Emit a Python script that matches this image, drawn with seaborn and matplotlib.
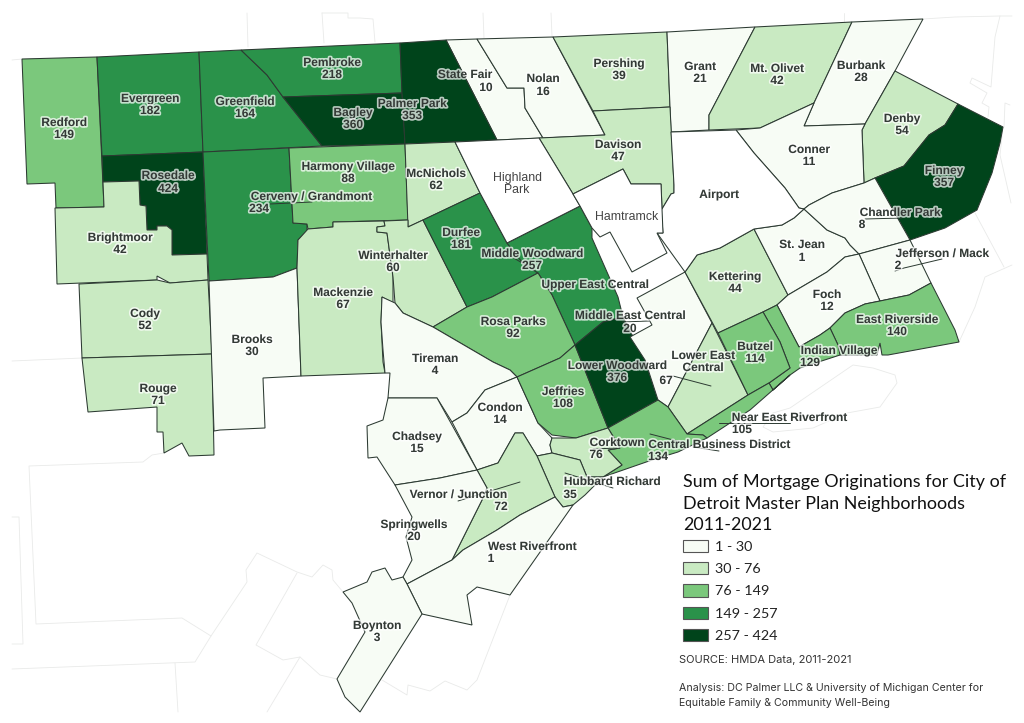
import pandas as pd
import matplotlib.pyplot as plt
import matplotlib.patheffects as pe
from matplotlib.patches import Patch
import seaborn as sns

# Mortgage originations per neighborhood
NAMES = ['Redford', 'Evergreen', 'Greenfield', 'Pembroke', 'State Fair', 'Nolan', 'Pershing', 'Grant',
         'Mt. Olivet', 'Burbank', 'Denby', 'Finney', 'Conner', 'Davison', 'Bagley', 'Palmer Park',
         'Rosedale', 'Cerveny / Grandmont', 'Harmony Village', 'McNichols', 'Brightmoor', 'Cody',
         'Rouge', 'Brooks', 'Mackenzie', 'Winterhalter', 'Durfee', 'Middle Woodward', 'Rosa Parks',
         'Tireman', 'Condon', 'Chadsey', 'Jeffries', 'Lower Woodward', 'Middle East Central',
         'Lower East Central', 'Kettering', 'St. Jean', 'Chandler Park', 'Jefferson / Mack', 'Foch',
         'East Riverside', 'Indian Village', 'Butzel', 'Near East Riverfront',
         'Central Business District', 'Corktown', 'Hubbard Richard', 'Vernor / Junction',
         'Springwells', 'West Riverfront', 'Boynton']
VALUES = [149, 182, 164, 218, 10, 16, 39, 21,
          42, 28, 54, 357, 11, 47, 360, 353,
          424, 234, 88, 62, 42, 52,
          71, 30, 67, 60, 181, 257, 92,
          4, 14, 15, 108, 376, 20,
          67, 44, 1, 8, 2, 12,
          140, 129, 114, 105,
          134, 76, 35, 72,
          20, 1, 3]

BIN_EDGES = [1, 30, 76, 149, 257, 424]
BIN_LABELS = ['1 - 30', '30 - 76', '76 - 149', '149 - 257', '257 - 424']

# Boundaries, traced in image pixels
OUTLINES = {
    'Redford': [(22, 59), (97, 57), (104, 207), (56, 208), (55, 183), (27, 184)],
    'Evergreen': [(97, 57), (199, 52), (203, 152), (102, 156)],
    'Greenfield': [(199, 52), (241, 50), (267, 75), (283, 97), (322, 146), (203, 152)],
    'Pembroke': [(241, 50), (400, 43), (402, 93), (283, 97), (267, 75)],
    'State Fair': [(446, 40), (477, 39), (507, 88), (524, 88), (525, 108), (543, 138), (497, 140)],
    'Nolan': [(477, 39), (553, 37), (605, 135), (543, 138), (525, 108), (524, 88), (507, 88)],
    'Pershing': [(553, 37), (667, 32), (670, 107), (593, 111)],
    'Grant': [(667, 32), (755, 27), (709, 115), (709, 130), (671, 132)],
    'Mt. Olivet': [(755, 27), (852, 22), (814, 103), (760, 128), (709, 130), (709, 115)],
    'Burbank': [(852, 22), (923, 19), (895, 71), (865, 124), (804, 126), (814, 103)],
    'Denby': [(895, 71), (958, 104), (945, 125), (929, 135), (904, 166), (875, 178), (864, 183),
              (862, 130), (865, 124)],
    'Finney': [(958, 104), (1003, 127), (1000, 143), (992, 173), (977, 210), (945, 228), (910, 240),
               (875, 178), (904, 166), (929, 135), (945, 125)],
    'Conner': [(804, 126), (865, 124), (862, 130), (864, 183), (832, 193), (809, 205), (804, 209),
               (799, 208), (785, 188), (754, 153), (736, 130), (760, 128), (814, 103)],
    'Davison': [(670, 107), (674, 185), (674, 193), (671, 194), (662, 209), (661, 184), (631, 184),
                (623, 169), (573, 194), (539, 138), (605, 135), (593, 111)],
    'Bagley': [(283, 97), (402, 93), (405, 144), (322, 146)],
    'Palmer Park': [(400, 43), (446, 40), (497, 140), (405, 144), (402, 93)],
    'Rosedale': [(102, 156), (203, 152), (207, 254), (172, 255), (172, 230), (167, 226), (157, 226),
                 (157, 230), (147, 230), (146, 206), (140, 205), (139, 181), (103, 182)],
    'Cerveny / Grandmont': [(203, 152), (289, 148), (293, 223), (307, 224), (307, 231), (298, 240),
                            (297, 268), (273, 277), (209, 281)],
    'Harmony Village': [(289, 148), (405, 144), (408, 220), (333, 222), (333, 227), (308, 229),
                        (307, 224), (293, 223)],
    'McNichols': [(405, 144), (455, 142), (480, 193), (423, 220), (408, 227)],
    'Brightmoor': [(55, 208), (104, 207), (103, 182), (139, 181), (140, 205), (146, 206), (147, 230),
                   (157, 230), (157, 226), (167, 226), (172, 230), (172, 255), (207, 254), (208, 280),
                   (170, 283), (157, 276), (157, 280), (57, 284)],
    'Cody': [(79, 284), (157, 280), (170, 283), (208, 280), (212, 354), (82, 358)],
    'Rouge': [(82, 358), (212, 354), (214, 455), (189, 456), (182, 443), (164, 453), (163, 432),
              (157, 432), (157, 407), (88, 412)],
    'Brooks': [(209, 281), (273, 277), (297, 268), (301, 376), (263, 378), (265, 428), (220, 430),
               (214, 431)],
    'Mackenzie': [(308, 229), (298, 240), (297, 268), (301, 376), (385, 373), (383, 362), (381, 322),
                  (382, 297), (393, 303), (393, 277), (387, 233), (377, 232), (377, 227), (385, 226),
                  (384, 221), (333, 222), (333, 227)],
    'Winterhalter': [(384, 221), (408, 220), (408, 227), (423, 220), (467, 307), (433, 327),
                     (403, 313), (395, 303), (393, 277), (387, 233), (377, 232), (377, 227), (385, 226)],
    'Durfee': [(423, 220), (480, 193), (507, 243), (522, 262), (538, 273), (492, 297), (467, 307)],
    'Middle Woodward': [(507, 243), (580, 206), (592, 228), (592, 238), (618, 297), (623, 317),
                        (603, 322), (575, 345), (552, 295), (538, 273), (522, 262)],
    'Rosa Parks': [(433, 327), (467, 307), (492, 297), (538, 273), (552, 295), (575, 345), (560, 358),
                   (517, 377), (510, 370), (493, 362)],
    'Tireman': [(382, 297), (395, 303), (403, 313), (433, 327), (493, 362), (510, 370), (517, 377),
                (485, 390), (467, 413), (452, 422), (437, 398), (388, 398), (390, 373), (385, 373),
                (383, 350), (381, 322)],
    'Condon': [(452, 422), (467, 413), (485, 390), (517, 377), (538, 423), (552, 438), (550, 445),
               (552, 453), (537, 456), (523, 433), (515, 433), (498, 463), (477, 470)],
    'Chadsey': [(388, 398), (437, 398), (477, 470), (440, 478), (395, 485), (377, 457), (368, 458),
                (367, 426), (383, 420)],
    'Jeffries': [(517, 377), (560, 358), (575, 345), (608, 428), (576, 438), (552, 435), (538, 423)],
    'Lower Woodward': [(575, 345), (603, 322), (623, 317), (645, 360), (658, 400), (608, 428)],
    'Middle East Central': [(637, 298), (685, 272), (712, 323), (668, 407), (658, 400), (645, 360),
                            (630, 337), (652, 325)],
    'Lower East Central': [(712, 323), (748, 395), (687, 434), (668, 407)],
    'Kettering': [(754, 229), (788, 295), (777, 305), (763, 312), (718, 333), (685, 272), (697, 255),
                  (720, 248)],
    'St. Jean': [(754, 229), (782, 225), (794, 218), (804, 209), (827, 230), (845, 238), (850, 245),
                 (859, 254), (845, 257), (827, 272), (788, 295)],
    'Chandler Park': [(875, 178), (910, 240), (859, 254), (850, 245), (845, 238), (827, 230),
                      (804, 209), (809, 205), (832, 193), (864, 183)],
    'Jefferson / Mack': [(859, 254), (910, 240), (931, 283), (909, 295), (880, 301)],
    'Foch': [(788, 295), (827, 272), (845, 257), (859, 254), (880, 301), (865, 304), (845, 313),
             (830, 328), (820, 335), (799, 347), (777, 305)],
    'East Riverside': [(830, 328), (845, 313), (865, 304), (880, 301), (909, 295), (931, 283),
                       (955, 330), (959, 342), (888, 355), (882, 355), (880, 343), (877, 355),
                       (840, 355), (838, 345)],
    'Indian Village': [(763, 312), (777, 305), (799, 347), (820, 335), (830, 328), (838, 345),
                       (840, 355), (800, 368), (790, 375), (773, 390), (769, 383), (790, 368),
                       (780, 342)],
    'Butzel': [(718, 333), (763, 312), (780, 342), (790, 368), (769, 383), (748, 395)],
    'Near East Riverfront': [(687, 434), (748, 395), (769, 383), (773, 390), (790, 375), (750, 410),
                             (707, 438), (703, 435)],
    'Central Business District': [(608, 428), (658, 400), (668, 407), (687, 434), (703, 435), (707, 438),
                                  (678, 452), (652, 460), (603, 477), (622, 465), (608, 450), (620, 448)],
    'Corktown': [(552, 438), (576, 438), (608, 428), (620, 448), (608, 450), (622, 465), (603, 477),
                 (587, 477), (580, 460), (560, 455), (552, 453), (550, 445)],
    'Hubbard Richard': [(537, 456), (552, 453), (560, 455), (580, 460), (587, 477), (603, 477),
                        (585, 495), (573, 505), (563, 507), (555, 497)],
    'Vernor / Junction': [(477, 470), (498, 463), (515, 433), (523, 433), (537, 456), (555, 497),
                          (520, 515), (497, 530), (463, 550), (452, 560), (482, 500), (487, 488)],
    'Springwells': [(395, 485), (440, 478), (477, 470), (487, 488), (482, 500), (452, 560), (407, 584),
                    (403, 577), (412, 560), (406, 537), (412, 517)],
    'West Riverfront': [(407, 584), (452, 560), (463, 550), (497, 530), (520, 515), (555, 497),
                        (563, 507), (573, 505), (510, 595), (477, 587), (467, 595), (472, 625),
                        (422, 614)],
    'Boynton': [(343, 592), (367, 582), (372, 572), (385, 568), (392, 580), (403, 577), (407, 584),
                (422, 614), (360, 712), (345, 697), (337, 679), (365, 632), (352, 603)],
}

# Places inside the city outline that carry no value
BLANK_OUTLINES = {
    'Airport': [(671, 132), (736, 130), (754, 153), (785, 188), (799, 208), (804, 209), (794, 218),
                (782, 225), (754, 229), (720, 248), (697, 255), (685, 272), (657, 233), (663, 233),
                (661, 209), (662, 209), (671, 194), (674, 193), (674, 185)],
    'Highland Park': [(455, 142), (539, 138), (573, 194), (580, 206), (507, 243), (480, 193)],
    'Hamtramck': [(573, 194), (623, 169), (631, 184), (661, 184), (663, 233), (657, 233), (667, 253),
                  (632, 272), (610, 232), (600, 237), (592, 228), (580, 206)],
}

# Faint surrounding streets and borders
CONTEXT_LINES = [
    [(247, 13), (248, 47)],
    [(322, 13), (348, 13), (348, 18), (360, 18), (373, 19), (375, 42)],
    [(322, 13), (324, 43)],
    [(483, 13), (484, 38)],
    [(551, 13), (552, 36)],
    [(844, 13), (844, 22)],
    [(12, 60), (22, 59)],
    [(923, 19), (955, 17), (1000, 16), (1012, 16)],
    [(1000, 16), (995, 37), (991, 87), (972, 78), (970, 83), (987, 93), (982, 103), (989, 107), (988, 117)],
    [(1004, 127), (1005, 103), (1010, 105)],
    [(1003, 127), (1000, 155), (1011, 203)],
    [(975, 213), (1004, 267)],
    [(1012, 265), (985, 277), (975, 307), (959, 342)],
    [(773, 413), (790, 408), (853, 365), (873, 368), (895, 375), (897, 383), (880, 407), (847, 413),
     (813, 428), (773, 432), (763, 427), (773, 413)],
    [(12, 361), (82, 358)],
    [(164, 453), (152, 455), (143, 462), (29, 466), (36, 624), (182, 618), (211, 636)],
    [(343, 592), (333, 580), (332, 570), (323, 565), (312, 577), (297, 572), (257, 553), (246, 570),
     (247, 582), (211, 636), (195, 662), (12, 669)],
    [(175, 663), (178, 712)],
    [(297, 573), (256, 645), (283, 660), (300, 657), (320, 675), (337, 679)],
    [(300, 657), (267, 712)],
    [(12, 517), (19, 517), (23, 644), (12, 644)],
    [(382, 680), (407, 695), (408, 685), (430, 691), (445, 681), (467, 690), (477, 680), (510, 595)],
]

# Leader lines from labels to their areas
LEADERS = [
    [(270, 204), (312, 202)],
    [(865, 219), (902, 218)],
    [(895, 271), (904, 268), (942, 259)],
    [(622, 322), (649, 321)],
    [(593, 449), (617, 448)],
    [(650, 434), (685, 443)],
    [(693, 447), (719, 451)],
    [(719, 423), (790, 423)],
    [(673, 376), (711, 386)],
    [(458, 501), (520, 482)],
    [(565, 473), (613, 488)],
    [(512, 257), (524, 264)],
]

# name: (name x, name y, value x, value y)
LABEL_POS = {
    'Redford': (64, 122, 64, 134), 'Evergreen': (150, 98, 150, 110), 'Greenfield': (245, 101, 245, 113),
    'Pembroke': (332, 62, 332, 74), 'State Fair': (465, 74, 486, 87), 'Nolan': (543, 78, 543, 91),
    'Pershing': (619, 63, 619, 75), 'Grant': (700, 66, 700, 78), 'Mt. Olivet': (777, 68, 777, 80),
    'Burbank': (861, 65, 861, 77), 'Denby': (902, 118, 902, 130), 'Finney': (944, 170, 944, 182),
    'Conner': (809, 149, 809, 161), 'Davison': (618, 144, 618, 156), 'Bagley': (353, 112, 353, 124),
    'Palmer Park': (412, 103, 412, 115), 'Rosedale': (168, 175, 168, 188),
    'Cerveny / Grandmont': (311, 196, 259, 208), 'Harmony Village': (348, 166, 348, 178),
    'McNichols': (436, 173, 436, 185), 'Brightmoor': (120, 237, 120, 249), 'Cody': (145, 313, 145, 325),
    'Rouge': (158, 388, 158, 400), 'Brooks': (252, 339, 252, 351), 'Mackenzie': (343, 292, 343, 304),
    'Winterhalter': (393, 255, 393, 267), 'Durfee': (461, 232, 461, 244),
    'Middle Woodward': (532, 253, 532, 265), 'Rosa Parks': (513, 321, 513, 333),
    'Tireman': (435, 358, 435, 370), 'Condon': (500, 407, 500, 419), 'Chadsey': (417, 436, 417, 448),
    'Jeffries': (563, 391, 563, 403), 'Lower East Central': (703, 361, 666, 380),
    'Lower Woodward': (617, 365, 617, 377), 'Middle East Central': (630, 315, 630, 328),
    'Kettering': (735, 276, 735, 288), 'St. Jean': (802, 244, 802, 257),
    'Chandler Park': (900, 212, 862, 224), 'Jefferson / Mack': (942, 253, 898, 265),
    'Foch': (827, 294, 827, 306), 'East Riverside': (897, 319, 897, 331),
    'Indian Village': (839, 350, 810, 362), 'Butzel': (755, 346, 755, 358),
    'Near East Riverfront': (789, 417, 742, 429), 'Central Business District': (719, 444, 658, 456),
    'Corktown': (617, 442, 596, 454), 'Hubbard Richard': (612, 481, 570, 494),
    'Vernor / Junction': (458, 494, 501, 506), 'Springwells': (414, 524, 414, 536),
    'West Riverfront': (532, 546, 491, 558), 'Boynton': (377, 625, 377, 637),
}

df = pd.DataFrame({'name': NAMES, 'value': VALUES})
df['bin'] = pd.cut(df['value'], BIN_EDGES, labels=BIN_LABELS, include_lowest=True)

sns.set_theme(style='white')
palette = dict(zip(BIN_LABELS, sns.color_palette(['#f7fcf5', '#c9eac2', '#7bc87c', '#2a924a', '#00441b'])))
EDGE = '#2c3a32'
TEXT = '#333a36'

fig = plt.figure(figsize=(10.24, 7.23), dpi=100)
ax = fig.add_axes([0, 0, 1, 1])
ax.set_xlim(0, 1024)
ax.set_ylim(723, 0)
ax.axis('off')

for line in CONTEXT_LINES:
    ax.plot(*zip(*line), color='#e9eae9', lw=0.6, zorder=1)

for row in df.itertuples():
    ax.fill(*zip(*OUTLINES[row.name]), facecolor=palette[row.bin], edgecolor=EDGE, lw=0.75, zorder=2)
for outline in BLANK_OUTLINES.values():
    ax.fill(*zip(*outline), facecolor='white', edgecolor=EDGE, lw=0.75, zorder=2)
for line in LEADERS:
    ax.plot(*zip(*line), color=EDGE, lw=0.7, zorder=3)

halo = [pe.withStroke(linewidth=2.4, foreground='white', alpha=0.72)]


def put_label(x, y, text):
    # labels sit a pixel lower than the traced centres
    ax.text(x, y + 1, text, ha='center', va='center', fontsize=8.6, fontweight='bold', linespacing=1.0,
            family='Liberation Sans', color=TEXT, path_effects=halo, zorder=4)


for row in df.itertuples():
    nx, ny, vx, vy = LABEL_POS[row.name]
    # this one would run under Lower Woodward on a single line
    name = 'Lower East\nCentral' if row.name == 'Lower East Central' else row.name
    put_label(nx, ny, name)
    put_label(vx, vy, str(row.value))
put_label(595, 284, 'Upper East Central')
put_label(719, 194, 'Airport')
for x, y, text in [(517, 177, 'Highland'), (517, 189, 'Park'), (627, 216, 'Hamtramck')]:
    ax.text(x, y + 1, text, ha='center', va='center', fontsize=8.8, family='Liberation Sans',
            color='#444444', zorder=4)

for y, text in [(482, 'Sum of Mortgage Originations for City of'),
                (504, 'Detroit Master Plan Neighborhoods'),
                (525, '2011-2021')]:
    ax.text(683, y, text, ha='left', va='center', fontsize=12.9, family='Lato', color='#111111', zorder=4)

handles = [Patch(facecolor=palette[b], edgecolor='#555555', lw=0.8, label=b) for b in BIN_LABELS]
ax.legend(handles=handles, loc='upper left', bbox_to_anchor=(680 / 1024, 1 - 537 / 723), frameon=False,
          prop={'family': 'Lato', 'size': 10.4}, labelcolor='#222222', handlelength=1.72, handleheight=0.93,
          handletextpad=0.5, labelspacing=0.63, borderpad=0.2, borderaxespad=0)

ax.text(679, 660, 'SOURCE: HMDA Data, 2011-2021', ha='left', va='center', fontsize=8, family='Inter',
        color='#333333', zorder=4)
for y, text in [(688, 'Analysis: DC Palmer LLC & University of Michigan Center for'),
                (703, 'Equitable Family & Community Well-Being')]:
    ax.text(679, y, text, ha='left', va='center', fontsize=7.65, family='Inter', color='#333333', zorder=4)

sns.despine(fig=fig, left=True, bottom=True)
fig.savefig('out.png', dpi=100)
